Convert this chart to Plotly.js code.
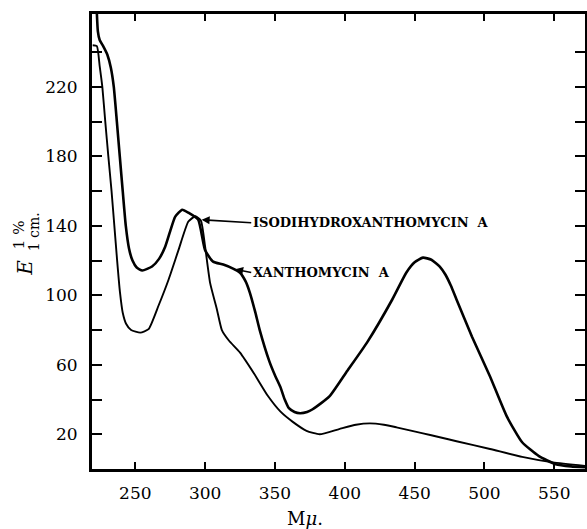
<!DOCTYPE html>
<html><head><meta charset="utf-8">
<script src="https://cdn.plot.ly/plotly-3.0.1.min.js"></script>
<style>html,body{margin:0;padding:0;background:#fff}</style>
</head><body>
<div id="chart" style="width:587px;height:529px"></div>
<script>
// Xanthomycin A absorption curve (wavelength in mμ, E 1%/1cm)
const xanthoWavelength = [222.5, 223.2, 224.5, 227, 230, 232.5, 234.6, 236.8, 238.9, 241, 243.2, 245.5, 248, 251, 255, 262, 267, 271.4, 275, 278.6, 283.6, 288, 295, 300, 305.7, 313, 320, 325, 329, 332, 336, 339, 346, 350, 354, 357, 360, 364, 368, 373, 377, 389, 401, 416, 434, 444, 450, 456, 462, 468, 472, 476, 480, 491, 504, 516, 527, 539, 551, 562, 572];
const xanthoE = [262, 252, 247, 243.5, 238.5, 231, 220, 200, 180, 160, 140, 127, 120, 116, 114.3, 116.6, 121, 128, 137, 145.3, 149.3, 147.6, 143.6, 126, 119.4, 117.7, 115.4, 113, 108, 101.6, 90, 80.3, 62, 54, 47, 40, 35, 32.8, 32.1, 32.8, 34.4, 41.8, 55.6, 72.9, 97.6, 113, 119, 121.7, 120.5, 116.6, 112, 105.5, 97.6, 76.3, 53.3, 30.3, 15.4, 7.4, 2.8, 1.5, 1];

// Isodihydroxanthomycin A absorption curve
const isoWavelength = [219.5, 222.5, 224.5, 226.4, 228.5, 230.7, 233, 235, 237, 239, 241, 243.5, 247, 253.6, 259.5, 266.6, 273.8, 280.9, 288, 293, 297, 300, 303.6, 308.4, 312, 317, 325, 335, 345, 354, 363, 372.6, 382, 396, 408, 418, 428, 437, 456, 468, 480, 504, 527, 549, 572];
const isoE = [244, 243.5, 232, 220, 200, 180, 160, 140, 120, 102, 90, 83.5, 80, 78.5, 80.5, 94, 109, 126, 142.5, 145.5, 143, 128, 107, 92, 80, 74, 67, 55, 42, 33, 27, 22, 20, 23, 25.5, 26.3, 25.5, 24, 20.5, 18.3, 16, 11.5, 7, 3.8, 1.8];

// Axis ticks
const xTickVals = [250, 300, 350, 400, 450, 500, 550];
const xTickText = ['250', '300', '350', '400', '450', '500', '550'];
const yTickVals = [20, 40, 60, 80, 100, 120, 140, 160, 180, 200, 220, 240];
const yTickText = ['20', '', '60', '', '100', '', '140', '', '180', '', '220', ''];

// Labels
const isoLabel = 'ISODIHYDROXANTHOMYCIN  A';
const xanthoLabel = 'XANTHOMYCIN  A';

const serif = 'DejaVu Serif, Liberation Serif, serif';

const traces = [
  {x: xanthoWavelength, y: xanthoE, mode: 'lines', type: 'scatter', name: xanthoLabel,
   line: {color: '#000', width: 2.6, shape: 'spline', smoothing: 0.5}, hoverinfo: 'skip'},
  {x: isoWavelength, y: isoE, mode: 'lines', type: 'scatter', name: isoLabel,
   line: {color: '#000', width: 1.9, shape: 'spline', smoothing: 0.5}, hoverinfo: 'skip'}
];

const layout = {
  width: 587, height: 529,
  margin: {l: 92, r: 2, t: 14, b: 60},
  paper_bgcolor: '#fff', plot_bgcolor: '#fff',
  showlegend: false,
  font: {family: serif, color: '#000', size: 17},
  xaxis: {
    range: [219, 572], tickvals: xTickVals, ticktext: xTickText,
    ticks: 'inside', ticklen: 7, tickwidth: 2, tickcolor: '#000',
    showline: true, linewidth: 3, linecolor: '#000', mirror: 'ticks',
    showgrid: false, zeroline: false, ticklabelstandoff: 7,
    tickfont: {family: serif, size: 17, color: '#000'}
  },
  yaxis: {
    range: [0, 262], tickvals: yTickVals, ticktext: yTickText,
    ticks: 'inside', ticklen: 10, tickwidth: 2, tickcolor: '#000',
    showline: true, linewidth: 3, linecolor: '#000', mirror: 'ticks',
    showgrid: false, zeroline: false, ticklabelstandoff: 8,
    tickfont: {family: serif, size: 17, color: '#000'}
  },
  annotations: [
    {x: 297.5, y: 143.5, ax: 333, ay: 141.8, xref: 'x', yref: 'y', axref: 'x', ayref: 'y',
     text: '<b>' + isoLabel + '</b>', showarrow: true, arrowhead: 2, arrowsize: 1, arrowwidth: 1.6, arrowcolor: '#000',
     xanchor: 'left', yanchor: 'middle', font: {family: serif, size: 13, color: '#000'}},
    {x: 321.5, y: 115, ax: 333, ay: 113.1, xref: 'x', yref: 'y', axref: 'x', ayref: 'y',
     text: '<b>' + xanthoLabel + '</b>', showarrow: true, arrowhead: 2, arrowsize: 1, arrowwidth: 1.6, arrowcolor: '#000',
     xanchor: 'left', yanchor: 'middle', font: {family: serif, size: 13, color: '#000'}},
    {x: 371.5, y: -0.108, xref: 'x', yref: 'paper', text: 'M<i>μ</i>.', showarrow: false,
     xanchor: 'center', yanchor: 'middle', font: {family: serif, size: 18, color: '#000'}},
    {x: -0.136, y: 0.442, xref: 'paper', yref: 'paper', text: '<i>E</i>', textangle: -90, showarrow: false,
     xanchor: 'center', yanchor: 'middle', font: {family: serif, size: 20, color: '#000'}},
    {x: -0.148, y: 0.514, xref: 'paper', yref: 'paper', text: '1 %', textangle: -90, showarrow: false,
     xanchor: 'center', yanchor: 'middle', font: {family: serif, size: 15, color: '#000'}},
    {x: -0.117, y: 0.521, xref: 'paper', yref: 'paper', text: '1 cm.', textangle: -90, showarrow: false,
     xanchor: 'center', yanchor: 'middle', font: {family: serif, size: 14, color: '#000'}}
  ]
};

Plotly.newPlot('chart', traces, layout, {staticPlot: true, displayModeBar: false});
</script>
</body></html>
